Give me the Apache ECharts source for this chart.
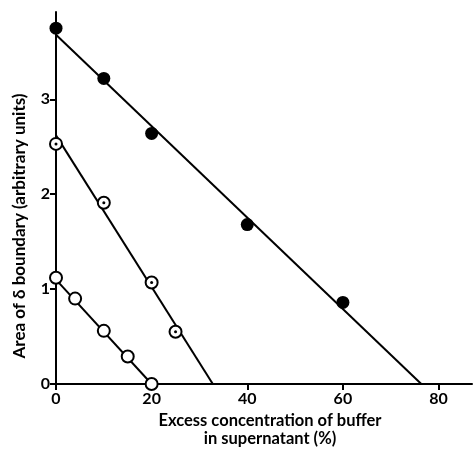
<!DOCTYPE html>
<html>
<head>
<meta charset="utf-8">
<script src="https://cdn.jsdelivr.net/npm/echarts@6/dist/echarts.min.js"></script>
<style>
  html, body { margin: 0; padding: 0; background: #fff; }
  #chart { width: 473px; height: 449px; }
</style>
</head>
<body>
<div id="chart"></div>
<script>
// measured points
var filledX = [0, 10, 20, 40, 60];
var filledY = [3.75, 3.22, 2.64, 1.68, 0.86];
var dottedX = [0, 10, 20, 25];
var dottedY = [2.53, 1.91, 1.07, 0.55];
var openX = [0, 4, 10, 15, 20];
var openY = [1.12, 0.90, 0.56, 0.29, 0];

// fitted lines (ends)
var filledFitX = [0, 76.4];
var filledFitY = [3.68, 0];
var dottedFitX = [0, 32.8];
var dottedFitY = [2.62, 0];
var openFitX = [0, 20];
var openFitY = [1.1, 0];

var xTicks = [0, 20, 40, 60, 80];
var yTicks = [0, 1, 2, 3];

function pairs(xs, ys) {
  return xs.map((x, i) => [x, ys[i]]);
}

var font = 'Lato';
var chart = echarts.init(document.getElementById('chart'));

var lineStyle = { color: '#000', width: 2 };

function fitLine(xs, ys) {
  return {
    type: 'line', data: pairs(xs, ys), symbol: 'none',
    lineStyle: lineStyle, z: 2, silent: true
  };
}

var option = {
  animation: false,
  grid: { left: 56, right: 1, top: 12, bottom: 65, outerBoundsMode: 'none', containLabel: false },
  xAxis: {
    type: 'value', min: 0, max: 87,
    name: 'Excess concentration of buffer\nin supernatant (%)',
    nameLocation: 'middle', nameGap: 27,
    nameTextStyle: { fontFamily: font, fontWeight: 'bold', fontSize: 16.5, color: '#000', lineHeight: 18, padding: [0, 0, 0, 12] },
    axisLine: { onZero: false, lineStyle: { color: '#000', width: 2 } },
    axisTick: { customValues: xTicks, length: 6, lineStyle: { color: '#000', width: 2 } },
    axisLabel: { customValues: xTicks, fontFamily: font, fontWeight: 'bold', fontSize: 16, color: '#000', margin: 7 },
    splitLine: { show: false }
  },
  yAxis: {
    type: 'value', min: 0, max: 3.92,
    name: 'Area of δ boundary (arbitrary units)',
    nameLocation: 'middle', nameGap: 28, nameRotate: 90,
    nameTextStyle: { fontFamily: font, fontWeight: 'bold', fontSize: 17, color: '#000', padding: [0, 56, 0, 0] },
    axisLine: { onZero: false, lineStyle: { color: '#000', width: 2 } },
    axisTick: { customValues: yTicks, length: 6, lineStyle: { color: '#000', width: 2 } },
    axisLabel: { customValues: yTicks, fontFamily: font, fontWeight: 'bold', fontSize: 16, color: '#000', margin: 6 },
    splitLine: { show: false }
  },
  series: [
    fitLine(filledFitX, filledFitY),
    fitLine(dottedFitX, dottedFitY),
    fitLine(openFitX, openFitY),
    {
      type: 'scatter', data: pairs(filledX, filledY), symbolSize: 13,
      itemStyle: { color: '#000', opacity: 1 }, z: 3
    },
    {
      type: 'scatter', data: pairs(dottedX, dottedY), symbolSize: 12,
      itemStyle: { color: '#fff', borderColor: '#000', borderWidth: 2, opacity: 1 }, z: 3
    },
    {
      type: 'scatter', data: pairs(dottedX, dottedY), symbolSize: 3,
      itemStyle: { color: '#000', opacity: 1 }, z: 4
    },
    {
      type: 'scatter', data: pairs(openX, openY), symbolSize: 12,
      itemStyle: { color: '#fff', borderColor: '#000', borderWidth: 2, opacity: 1 }, z: 3
    }
  ]
};

chart.setOption(option);
</script>
</body>
</html>
